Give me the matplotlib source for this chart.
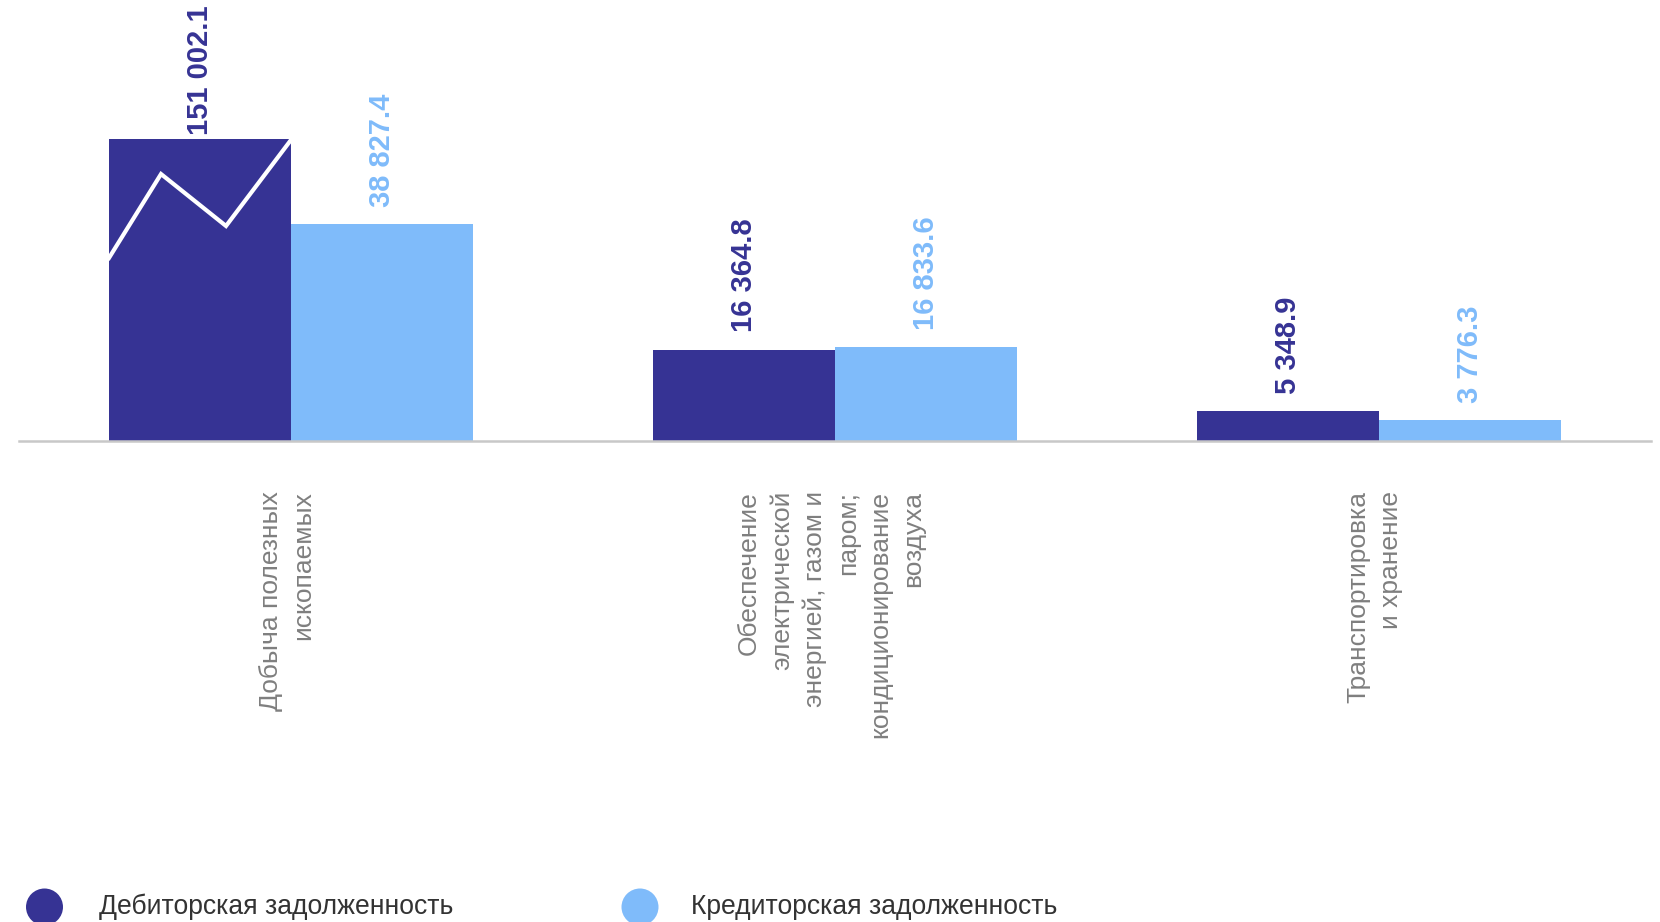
import matplotlib
matplotlib.use("Agg")
import matplotlib.pyplot as plt
from matplotlib.patches import Circle
import numpy as np

plt.rcParams['font.family'] = ['Liberation Sans', 'DejaVu Sans']

# ---- data ----
categories = [
    "Добыча полезных\nископаемых",
    "Обеспечение\nэлектрической\nэнергией, газом и\nпаром;\nкондиционирование\nвоздуха",
    "Транспортировка\nи хранение",
]
series_names = ["Дебиторская задолженность", "Кредиторская задолженность"]
receivable = [151002.1, 16364.8, 5348.9]
payable = [38827.4, 16833.6, 3776.3]

# ---- style ----
DARK = '#363394'
LIGHT = '#7fbbfa'
CAT_COLOR = '#7f7f7f'
LEG_COLOR = '#333333'
AXIS_COLOR = '#c8c8c8'
Y_MAX = 79000          # visible value range
BREAK_AT = 54100       # bars taller than this are drawn broken
BAR_W = 0.3346
ZIGZAG = [(0.0, 0.606), (0.286, 0.884), (0.643, 0.712), (1.0, 0.997)]

W, H, DPI = 16.6, 9.22, 100
fig = plt.figure(figsize=(W, H), dpi=DPI)
ax = fig.add_axes([19 / 1660, (922 - 441) / 922, 1632 / 1660, 441 / 922])

x = np.arange(len(categories))
ax.set_xlim(-0.5, len(categories) - 0.5)
ax.set_ylim(0, Y_MAX)

def fmt(v):
    return f"{v:,.1f}".replace(",", " ")

for vals, color, shift in [(receivable, DARK, -BAR_W / 2), (payable, LIGHT, BAR_W / 2)]:
    shown = [min(v, BREAK_AT) for v in vals]
    bars = ax.bar(x + shift, shown, width=BAR_W, color=color, zorder=2)
    for b, v, s in zip(bars, vals, shown):
        broken = v > s
        cx = b.get_x() + b.get_width() / 2
        ax.annotate(fmt(v), xy=(cx, s), xytext=(0, 3 if broken else 12.5),
                    textcoords='offset points', rotation=90, ha='center', va='bottom',
                    fontsize=21, fontweight='bold', color=color, zorder=4)
        if broken:
            zx = [b.get_x() + fx * b.get_width() for fx, fy in ZIGZAG]
            zy = [fy * s for fx, fy in ZIGZAG]
            ax.plot(zx, zy, color='white', lw=3, solid_joinstyle='miter', zorder=3,
                    clip_on=False)

for xi, lab in zip(x, categories):
    ax.annotate(lab, xy=(xi, 0), xytext=(-3, -36), textcoords='offset points',
                rotation=90, ha='center', va='top', multialignment='right',
                fontsize=19, color=CAT_COLOR, linespacing=1.45)

for side in ['top', 'left', 'right']:
    ax.spines[side].set_visible(False)
ax.spines['bottom'].set_color(AXIS_COLOR)
ax.spines['bottom'].set_linewidth(1.8)
ax.spines['bottom'].set_zorder(5)
ax.set_xticks([])
ax.set_yticks([])

# ---- legend ----
leg_items = [(series_names[0], DARK, 0.445, 0.99), (series_names[1], LIGHT, 6.40, 6.91)]
for name, color, cx, tx in leg_items:
    fig.patches.append(Circle((cx, 0.15), 0.185, transform=fig.dpi_scale_trans,
                              facecolor=color, edgecolor='none'))
    fig.text(tx, 0.08, name, transform=fig.dpi_scale_trans, fontsize=19.1,
             color=LEG_COLOR, ha='left', va='baseline')

fig.savefig("out.png", dpi=DPI)
